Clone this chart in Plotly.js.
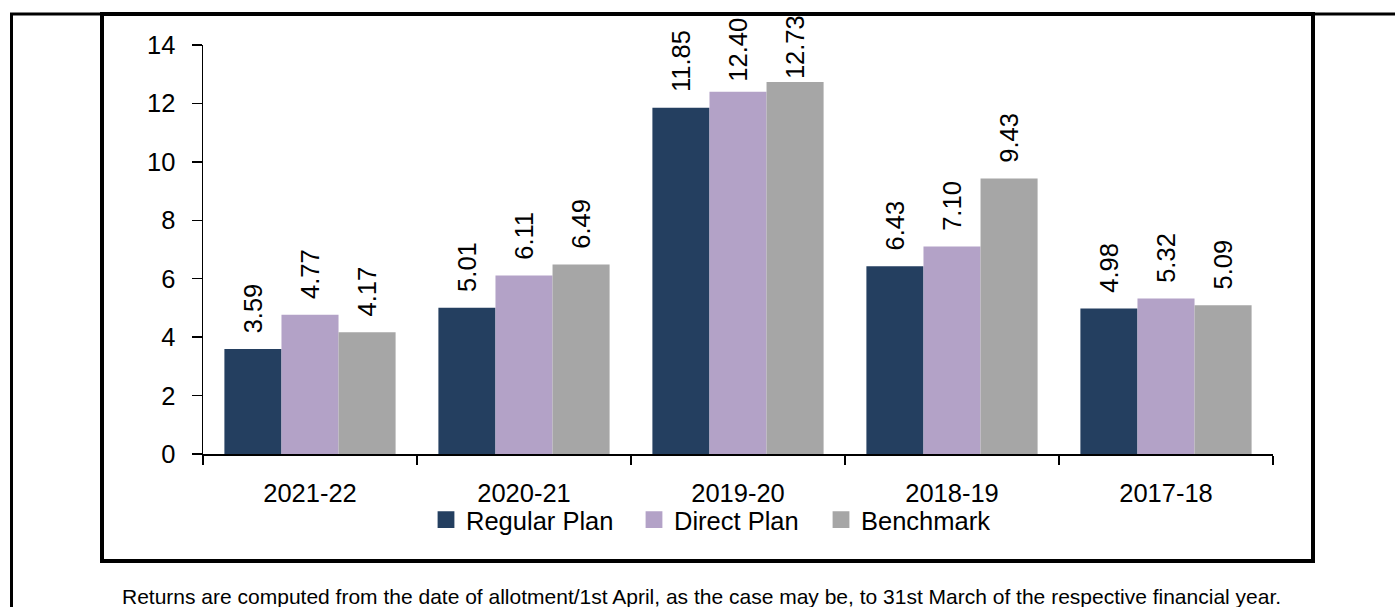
<!DOCTYPE html>
<html>
<head>
<meta charset="utf-8">
<script src="https://cdn.plot.ly/plotly-3.0.1.min.js"></script>
<style>
html,body{margin:0;padding:0;background:#fff;}
#chart{width:1395px;height:607px;}
</style>
</head>
<body>
<div id="chart"></div>
<script>
var categories = ['2021-22', '2020-21', '2019-20', '2018-19', '2017-18'];
var seriesNames = ['Regular Plan', 'Direct Plan', 'Benchmark'];
var regularPlan = [3.59, 5.01, 11.85, 6.43, 4.98];
var directPlan = [4.77, 6.11, 12.40, 7.10, 5.32];
var benchmark = [4.17, 6.49, 12.73, 9.43, 5.09];
var yTickValues = [0, 2, 4, 6, 8, 10, 12, 14];
var footnote = 'Returns are computed from the date of allotment/1st April, as the case may be, to 31st March of the respective financial year.';

var colors = ['#243F60', '#B3A2C7', '#A6A6A6'];
var chartFont = '"Liberation Sans", Arial, sans-serif';
var fs = 25.5;

// plot area in pixels
var L = 203, R = 1273, T = 45, B = 454;
var W = 1395, H = 607;
function px2x(px) { return (px - L) / (R - L); }
function px2y(py) { return (B - py) / (B - T); }

// labels near the top of the frame get less gap above the bar (as in the original)
function labelText(v) {
  var pad = v > 12.6 ? '' : (v > 12.2 ? '\u00a0' : '\u2002');
  return pad + v.toFixed(2);
}

var seriesValues = [regularPlan, directPlan, benchmark];
var legendWidths = [163, 142, 140];
var traces = seriesValues.map(function (vals, i) {
  return {
    type: 'bar',
    name: seriesNames[i],
    x: categories,
    y: vals,
    marker: { color: colors[i], line: { width: 0 } },
    text: vals.map(labelText),
    textposition: 'outside',
    textangle: -90,
    constraintext: 'none',
    cliponaxis: false,
    textfont: { family: chartFont, size: fs, color: '#000' },
    hoverinfo: 'skip',
    legendwidth: legendWidths[i]
  };
});

var shapes = [
  // outer frame
  { type: 'rect', xref: 'paper', yref: 'paper',
    x0: px2x(11.5), x1: px2x(1420), y0: px2y(14), y1: px2y(640),
    line: { color: '#000', width: 3 }, fillcolor: 'rgba(0,0,0,0)', layer: 'below' },
  // inner frame
  { type: 'rect', xref: 'paper', yref: 'paper',
    x0: px2x(102), x1: px2x(1313), y0: px2y(14), y1: px2y(561),
    line: { color: '#000', width: 4 }, fillcolor: 'rgba(0,0,0,0)', layer: 'below' }
];

var layout = {
  width: W, height: H,
  margin: { l: L, r: W - R, t: T, b: H - B, pad: 0 },
  paper_bgcolor: '#fff', plot_bgcolor: 'rgba(0,0,0,0)',
  font: { family: chartFont, size: fs, color: '#000' },
  barmode: 'group',
  bargap: 0.2,
  bargroupgap: 0,
  showlegend: true,
  legend: {
    orientation: 'h',
    x: px2x(426), xanchor: 'left',
    y: px2y(520), yanchor: 'middle',
    font: { family: chartFont, size: fs, color: '#000' },
    bgcolor: 'rgba(0,0,0,0)',
    traceorder: 'normal'
  },
  xaxis: {
    type: 'category',
    showline: true, linecolor: '#000', linewidth: 1.5,
    ticks: 'outside', tickson: 'boundaries', ticklen: 9, tickwidth: 1.5, tickcolor: '#000',
    showgrid: false, zeroline: false,
    tickfont: { family: chartFont, size: fs, color: '#000' },
    ticklabelstandoff: 16,
    fixedrange: true
  },
  yaxis: {
    range: [0, 14],
    tickvals: yTickValues,
    ticktext: yTickValues.map(String),
    showline: true, linecolor: '#000', linewidth: 1.5,
    ticks: 'outside', ticklen: 10, tickwidth: 1.5, tickcolor: '#000',
    showgrid: false, zeroline: false,
    tickfont: { family: chartFont, size: fs, color: '#000' },
    ticklabelstandoff: 11,
    fixedrange: true
  },
  shapes: shapes,
  annotations: [{
    xref: 'paper', yref: 'paper',
    x: px2x(701), y: px2y(596),
    xanchor: 'center', yanchor: 'middle',
    text: footnote, showarrow: false,
    font: { family: chartFont, size: 21, color: '#000' }
  }]
};

Plotly.newPlot('chart', traces, layout, { staticPlot: true, displayModeBar: false }).then(function () {
  var pts = document.querySelectorAll('.legend .legendpoints path');
  pts.forEach(function (p) {
    var t = p.getAttribute('transform') || '';
    p.setAttribute('transform', t + ' scale(1.4)');
  });
});
</script>
</body>
</html>
